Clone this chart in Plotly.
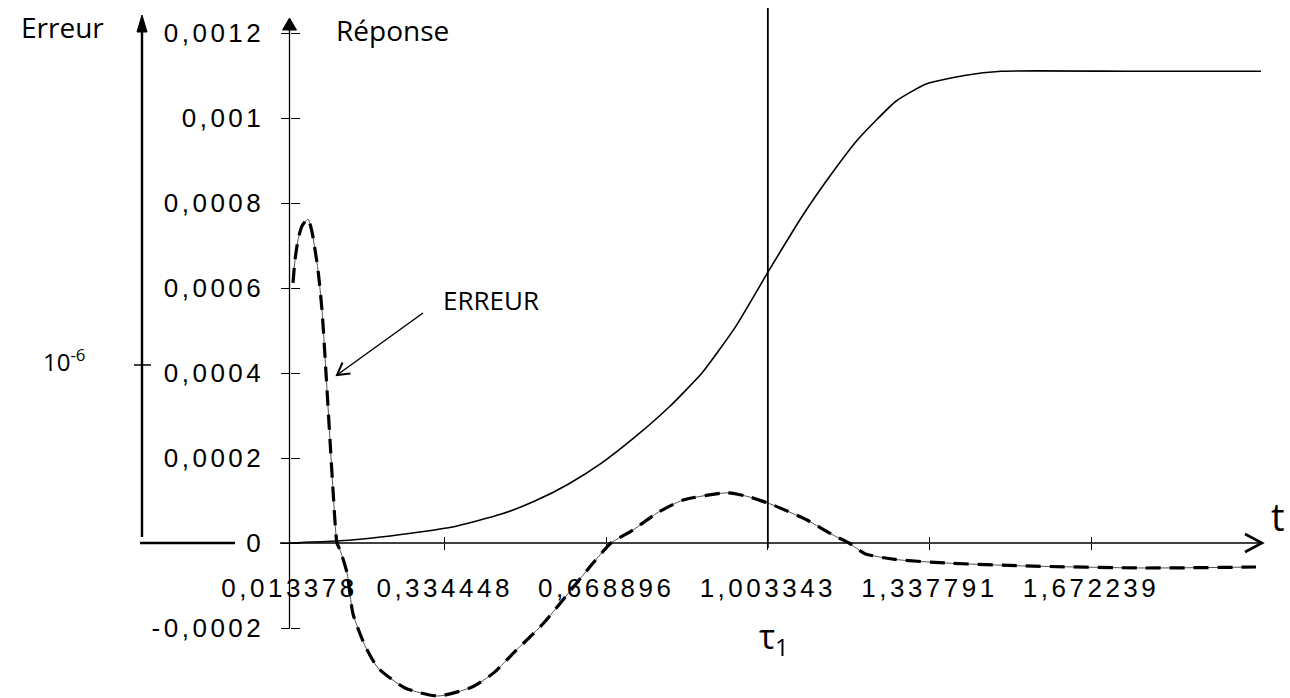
import plotly.graph_objects as go

# ---------------- data ----------------
t_reponse = [0.013378, 0.10, 0.17, 0.244, 0.348, 0.452, 0.520, 0.591, 0.659, 0.728,
             0.799, 0.867, 0.936, 1.006, 1.075, 1.136, 1.190, 1.269, 1.331, 1.410,
             1.486, 1.75, 2.024]
reponse = [0.0, 0.000004, 0.00001, 0.00002, 0.000037, 0.000068, 0.000098, 0.000139,
           0.000188, 0.000249, 0.00032, 0.0004, 0.000508, 0.000642, 0.00077, 0.00087,
           0.00095, 0.00104, 0.00108, 0.0011, 0.00111, 0.00111, 0.00111]

t_erreur = [0.02062, 0.02476, 0.03097, 0.03925, 0.05167, 0.05995, 0.07236, 0.08064,
            0.08892, 0.09720, 0.10340, 0.11168, 0.11797, 0.13246, 0.14488, 0.16971,
            0.19662, 0.25250, 0.32080, 0.39116, 0.43669, 0.48015, 0.53810, 0.63951,
            0.67883, 0.72427, 0.77394, 0.82775, 0.91881, 0.96641, 1.01401, 1.08437,
            1.13818, 1.17129, 1.20446, 1.26650, 1.36996, 1.53551, 1.78384, 2.01359]
erreur = [0.000612, 0.000666, 0.000713, 0.000746, 0.000762, 0.000732, 0.000642, 0.000548,
          0.0004, 0.000242, 0.000125, 0.0, -0.0000165, -0.0000706, -0.000167, -0.000242,
          -0.000294, -0.000341, -0.00036, -0.000339, -0.000305, -0.000255, -0.00019,
          -0.00005, 0.0, 0.0000306, 0.0000706, 0.000101, 0.000118, 0.000108, 0.0000894,
          0.000054, 0.0000188, 0.0, -0.0000252, -0.0000386, -0.000047, -0.000054,
          -0.0000588, -0.0000565]

x_tickvals = [0.013378, 0.334448, 0.668896, 1.003343, 1.337791, 1.672239]
x_ticktext = ["0,013378", "0,334448", "0,668896", "1,003343", "1,337791", "1,672239"]
y_tickvals = [-0.0002, 0, 0.0002, 0.0004, 0.0006, 0.0008, 0.001, 0.0012]
y_ticktext = ["-0,0002", "0", "0,0002", "0,0004", "0,0006", "0,0008", "0,001", "0,0012"]
tau1 = 1.003343

# ---------------- geometry ----------------
W, H = 1290, 698
X0_PX, PX_PER_T = 289.5, 483.2          # pixel of first x tick, pixels per unit t
Y0_PX, PX_PER_V = 543.0, 85 / 0.0002    # pixel of y=0, pixels per unit value
T0 = x_tickvals[0]


def tx(px):
    return T0 + (px - X0_PX) / PX_PER_T


def vy(py):
    return (Y0_PX - py) / PX_PER_V


def px_(x):
    return x / W


def py_(y):
    return 1 - y / H


x_range = [tx(0), tx(W)]
y_range = [vy(H), vy(0)]

TICKFONT = dict(family="Liberation Sans, Arial, sans-serif", size=26, color="black")
HAND = "Open Sans, Noto Sans, sans-serif"

fig = go.Figure()

fig.add_trace(go.Scatter(x=t_reponse, y=reponse, mode="lines",
                         line=dict(color="black", width=1.6, shape="spline", smoothing=0.5),
                         hoverinfo="skip", showlegend=False))
fig.add_trace(go.Scatter(x=t_erreur, y=erreur, mode="lines",
                         line=dict(color="#555", width=1, shape="spline", smoothing=0.6),
                         hoverinfo="skip", showlegend=False))
fig.add_trace(go.Scatter(x=t_erreur, y=erreur, mode="lines",
                         line=dict(color="black", width=3.2, shape="spline", smoothing=0.6,
                                   dash="15px,9px"),
                         hoverinfo="skip", showlegend=False))
# helper trace for the mirrored tick axes
fig.add_trace(go.Scatter(x=[None], y=[None], xaxis="x2", yaxis="y2",
                         hoverinfo="skip", showlegend=False))

xpos = py_(Y0_PX)
ypos = px_(X0_PX)

common = dict(showgrid=False, zeroline=False, showline=False, tickcolor="black",
              tickwidth=1.3)

fig.update_layout(
    width=W, height=H,
    margin=dict(l=0, r=0, t=0, b=0),
    paper_bgcolor="white", plot_bgcolor="white",
    xaxis=dict(range=x_range, domain=[0, 1], anchor="free", position=xpos,
               tickmode="array", tickvals=x_tickvals, ticktext=x_ticktext,
               ticks="outside", ticklen=6, tickfont=TICKFONT, ticklabelstandoff=16,
               **common),
    xaxis2=dict(range=x_range, domain=[0, 1], anchor="free", position=xpos,
                overlaying="x", side="top", tickmode="array", tickvals=x_tickvals,
                ticks="outside", ticklen=6, showticklabels=False, **common),
    yaxis=dict(range=y_range, domain=[0, 1], anchor="free", position=ypos,
               tickmode="array", tickvals=y_tickvals, ticktext=y_ticktext,
               ticks="outside", ticklen=9, tickfont=TICKFONT, ticklabelstandoff=11,
               **common),
    yaxis2=dict(range=y_range, domain=[0, 1], anchor="free", position=ypos,
                overlaying="y", side="right", tickmode="array", tickvals=y_tickvals,
                ticks="outside", ticklen=9, showticklabels=False, **common),
)

BLACK = "black"
shapes = [
    # x axis line + open arrow head
    dict(type="line", xref="x", yref="y", x0=tx(280), x1=tx(1262), y0=0, y1=0,
         line=dict(color=BLACK, width=1.3)),
    dict(type="path", xref="x", yref="y", xsizemode="pixel", ysizemode="pixel",
         xanchor=tx(1262), yanchor=0, path="M-17,9 L0,0 L-17,-9",
         line=dict(color=BLACK, width=2.6)),
    # response axis line + filled arrow head
    dict(type="line", xref="x", yref="y", x0=T0, x1=T0, y0=y_tickvals[0], y1=vy(20),
         line=dict(color=BLACK, width=1.3)),
    dict(type="path", xref="x", yref="y", xsizemode="pixel", ysizemode="pixel",
         xanchor=T0, yanchor=vy(18), path="M-7,-12 L0,0 L7,-12 Z",
         fillcolor=BLACK, line=dict(color=BLACK, width=1)),
    # Erreur axis line + arrow head
    dict(type="line", xref="paper", yref="paper", x0=px_(142), x1=px_(142),
         y0=py_(537), y1=py_(22), line=dict(color=BLACK, width=2.4)),
    dict(type="path", xref="paper", yref="paper", xsizemode="pixel", ysizemode="pixel",
         xanchor=px_(142), yanchor=py_(15), path="M-5,-17 L0,0 L5,-17 Z",
         fillcolor=BLACK, line=dict(color=BLACK, width=1)),
    # Erreur axis baseline
    dict(type="line", xref="paper", yref="paper", x0=px_(140), x1=px_(235),
         y0=py_(543), y1=py_(543), line=dict(color=BLACK, width=2.6)),
    # 10^-6 tick on Erreur axis
    dict(type="line", xref="paper", yref="paper", x0=px_(134), x1=px_(151),
         y0=py_(365), y1=py_(365), line=dict(color=BLACK, width=1.5)),
    # tau1 vertical line
    dict(type="line", xref="x", yref="paper", x0=tau1, x1=tau1,
         y0=py_(548), y1=py_(8), line=dict(color=BLACK, width=1.8)),
    # ERREUR pointer + open arrow head
    dict(type="line", xref="x", yref="y", x0=tx(423), y0=vy(313), x1=tx(337), y1=vy(375),
         line=dict(color=BLACK, width=1.5)),
    dict(type="path", xref="x", yref="y", xsizemode="pixel", ysizemode="pixel",
         xanchor=tx(337), yanchor=vy(375), path="M5.5,12.5 L0,0 L13.5,1.5",
         line=dict(color=BLACK, width=2)),
]
fig.update_layout(shapes=shapes)

ann = []
texts = [
    ("Erreur", 62, 27, 28),
    ("Réponse", 393, 30, 28),
    ("ERREUR", 491, 300, 26),
    ("t", 1278, 516, 38),
    ("τ<sub>1</sub>", 774, 638, 34),
    ("10<sup>-6</sup>", 64, 360, 24),
]
for txt, x, y, s in texts:
    ann.append(dict(x=px_(x), y=py_(y), xref="paper", yref="paper", text=txt,
                    showarrow=False, xanchor="center", yanchor="middle",
                    font=dict(family=HAND, size=s, color="black")))
fig.update_layout(annotations=ann)

post = """
document.body.style.margin = '0';
document.body.style.overflow = 'hidden';
document.querySelectorAll('.xtick text, .ytick text').forEach(function(e){
  e.style.letterSpacing = '3.5px';
});
document.querySelectorAll('svg text').forEach(function(e){
  if (!e.textContent || !e.textContent.trim()) { e.remove(); }
});
"""
fig.write_html("out.html", post_script=post,
               config=dict(responsive=False, displayModeBar=False))
